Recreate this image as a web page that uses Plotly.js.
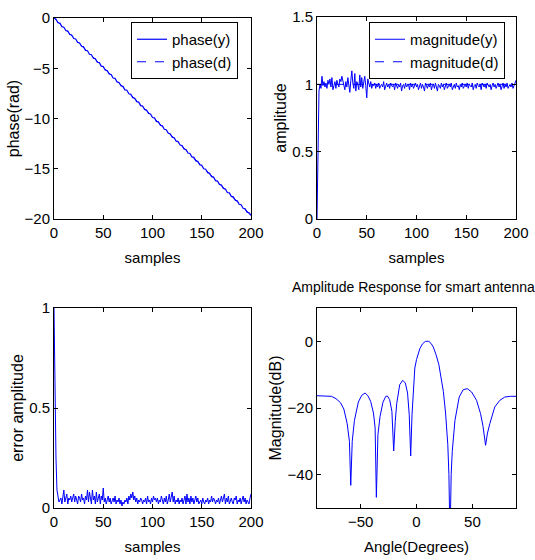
<!DOCTYPE html>
<html>
<head>
<meta charset="utf-8">
<script src="https://cdn.plot.ly/plotly-3.0.1.min.js"></script>
<style>html,body{margin:0;padding:0;background:#fff;}#chart{width:535px;height:560px;}</style>
</head>
<body>
<div id="chart"></div>
<script>
// ---- Data ----
// phase(y), one value every 2 samples starting at sample 0
var phaseY = [0,-0.12,-0.47,-0.51,-0.86,-0.91,-1.25,-1.30,-1.65,-1.69,
  -2.04,-2.09,-2.43,-2.48,-2.82,-2.87,-3.22,-3.26,-3.61,-3.66,
  -4.00,-4.05,-4.40,-4.44,-4.79,-4.84,-5.18,-5.23,-5.57,-5.62,
  -5.97,-6.01,-6.36,-6.41,-6.75,-6.80,-7.15,-7.19,-7.54,-7.58,
  -7.93,-7.98,-8.32,-8.37,-8.72,-8.76,-9.11,-9.16,-9.50,-9.55,
  -9.90,-9.94,-10.29,-10.33,-10.68,-10.73,-11.07,-11.12,-11.47,-11.51,
  -11.86,-11.91,-12.25,-12.30,-12.64,-12.69,-13.04,-13.08,-13.43,-13.48,
  -13.82,-13.87,-14.22,-14.26,-14.61,-14.66,-15.00,-15.05,-15.39,-15.44,
  -15.79,-15.83,-16.18,-16.23,-16.57,-16.62,-16.97,-17.01,-17.36,-17.40,
  -17.75,-17.80,-18.14,-18.19,-18.54,-18.58,-18.93,-18.98,-19.32,-19.37,
  -19.64];
// phase(d), end points of the reference line
var phaseDSamples = [0, 200];
var phaseD = [0, -19.64];
// magnitude(y), one value per sample 0..200
var magY = [0,0.62,0.95,1.0,0.97,1.06,0.99,1.02,0.98,1.01,
  0.97,1.03,1.0,1.04,0.98,1.05,0.96,0.99,1.02,0.97,
  1.03,1.0,0.98,1.04,1.02,1.06,1.03,0.99,0.96,1.02,
  0.98,1.05,1.0,0.94,1.03,1.1,1.01,0.97,1.08,0.95,
  1.02,1.0,0.96,1.07,0.98,1.05,0.97,1.01,1.06,0.99,
  0.9,1.04,1.01,0.98,1.02,0.97,1.0,0.99,1.01,0.97,
  1.0,0.98,1.01,0.97,0.99,1.0,0.98,1.02,0.96,0.99,
  1.01,0.98,1.0,0.97,1.01,0.99,0.98,1.0,0.96,1.01,
  0.99,0.97,1.0,0.98,1.01,0.95,0.99,1.0,0.97,1.01,
  0.98,0.99,1.0,0.96,1.01,0.98,1.0,0.97,0.99,1.01,
  0.98,1.0,0.96,0.99,1.01,0.97,1.0,0.98,0.95,1.01,
  0.99,0.97,1.0,0.98,1.01,0.96,0.99,1.0,0.97,1.01,
  0.98,0.95,1.0,0.99,0.97,1.01,0.98,1.0,0.96,0.99,
  1.01,0.97,0.99,1.0,0.98,1.01,0.96,0.99,1.0,0.97,
  1.01,0.98,0.99,0.96,1.0,0.98,1.01,0.97,0.99,1.0,
  0.98,1.01,0.97,1.0,0.99,0.98,1.01,0.96,0.99,1.0,
  0.97,1.01,0.99,0.98,1.0,0.96,1.01,0.99,0.98,1.0,
  0.97,1.01,0.99,0.98,1.0,0.96,0.99,1.01,0.98,1.0,
  0.97,0.99,1.01,0.98,1.0,0.96,0.99,1.01,0.97,1.0,
  0.98,1.01,0.97,0.99,1.0,0.98,1.01,0.97,0.99,1.0,
  1.03];
// magnitude(d)
var magDSamples = [0, 200];
var magD = [1, 1];
// error amplitude, one value per sample 0..200
var errAmp = [1.0,0.55,0.25,0.09,0.06,0.03,0.04,0.05,0.02,0.06,
  0.09,0.03,0.05,0.07,0.02,0.05,0.04,0.06,0.03,0.05,
  0.07,0.03,0.06,0.04,0.02,0.06,0.05,0.03,0.07,0.04,
  0.05,0.02,0.06,0.04,0.09,0.03,0.08,0.05,0.02,0.09,
  0.04,0.06,0.02,0.08,0.03,0.05,0.07,0.02,0.06,0.04,
  0.1,0.03,0.05,0.02,0.04,0.06,0.03,0.05,0.02,0.04,
  0.05,0.03,0.06,0.02,0.04,0.03,0.05,0.02,0.04,0.01,
  0.03,0.02,0.04,0.03,0.05,0.02,0.06,0.04,0.07,0.05,
  0.08,0.04,0.06,0.03,0.05,0.02,0.04,0.03,0.05,0.04,
  0.02,0.04,0.03,0.05,0.02,0.06,0.03,0.04,0.02,0.05,
  0.03,0.06,0.04,0.05,0.03,0.05,0.02,0.04,0.03,0.06,
  0.04,0.02,0.05,0.03,0.06,0.02,0.04,0.07,0.03,0.05,
  0.08,0.03,0.06,0.02,0.04,0.03,0.05,0.02,0.04,0.03,
  0.05,0.02,0.04,0.06,0.02,0.07,0.03,0.05,0.02,0.06,
  0.03,0.05,0.02,0.04,0.06,0.03,0.05,0.02,0.03,0.04,
  0.02,0.05,0.03,0.02,0.04,0.03,0.05,0.02,0.04,0.03,
  0.06,0.03,0.05,0.04,0.02,0.04,0.03,0.05,0.02,0.04,
  0.06,0.03,0.05,0.07,0.02,0.05,0.03,0.06,0.02,0.04,
  0.05,0.03,0.02,0.05,0.04,0.06,0.02,0.04,0.03,0.05,
  0.02,0.04,0.06,0.03,0.05,0.02,0.04,0.03,0.02,0.05,
  0.07];
// antenna amplitude response
var angleDeg = [-90,-85,-80,-76,-72,-68,-65,-62,-60,-58.8,-57.5,-55.5,-52,-49,-46,-43.5,-41,-38.5,-37,-35.9,
  -34.5,-32.6,-30,-27.5,-26,-24,-22,-20.4,-19,-17.7,-15,-12.3,-10,-8,-6.5,-5.2,-4,-3,-1.5,0,
  3,5.5,8,11,13,15,17.5,20,22,24,26,28,29,30,31,32,34.4,36.5,38.2,41.8,
  45.4,49.3,53.7,57.3,59.5,61.8,63.5,65.6,70,74.5,79,84,90];
var magDB = [-16.3,-16.3,-16.3,-16.5,-17.2,-18.4,-20.3,-24.7,-30,-43.2,-30,-23.7,-18.2,-16.2,-15.5,-16.3,-18,-21.5,-26,-46.8,
  -28,-22.5,-18.3,-16.5,-16.4,-17.5,-21,-32.9,-24,-18.7,-13,-11.7,-12.5,-15.5,-22,-34.4,-22,-15,-8,-5.5,
  -2.2,-0.7,0,0,-0.6,-1.7,-4,-7,-10.5,-15,-21.5,-31,-40,-60,-40,-33,-23.7,-19.5,-16.7,-14.5,
  -14.2,-15.2,-17.7,-21.7,-25.5,-31.2,-27.5,-24.7,-19.7,-17.7,-16.7,-16.5,-16.5];

var sampleTicks = [0, 50, 100, 150, 200];
var phaseTicks = [0, -5, -10, -15, -20];
var ampTicks = [0, 0.5, 1, 1.5];
var errTicks = [0, 0.5, 1];
var angleTicks = [-50, 0, 50];
var dbTicks = [0, -20, -40];

// ---- Styling ----
var FONT = '"Liberation Sans", Arial, sans-serif';
var FS = 15;
var blue = '#0000ff';
var W = 535, H = 560;
function dx(a, b) { return [a / W, b / W]; }
function dy(top, bottom) { return [1 - bottom / H, 1 - top / H]; }

function axis(extra) {
  var base = {
    showline: true, linecolor: '#000', linewidth: 1, mirror: 'ticks',
    ticks: 'inside', ticklen: 4, tickcolor: '#000', tickwidth: 1,
    showgrid: false, zeroline: false, tickmode: 'array',
    tickfont: {family: FONT, size: FS, color: '#000'},
    fixedrange: true
  };
  for (var k in extra) base[k] = extra[k];
  return base;
}
function ttl(t, standoff, size) { return {text: t, font: {family: FONT, size: size || 14, color: '#000'}, standoff: standoff}; }

var traces = [
  {x0: 0, dx: 2, y: phaseY, type: 'scatter', mode: 'lines', name: 'phase(y)', line: {color: blue, width: 1.2}, xaxis: 'x', yaxis: 'y', legend: 'legend', legendgroup: 'a'},
  {x: phaseDSamples, y: phaseD, type: 'scatter', mode: 'lines', name: 'phase(d)', line: {color: blue, width: 1, dash: 'dash'}, xaxis: 'x', yaxis: 'y', legend: 'legend', legendgroup: 'b'},
  {x0: 0, dx: 1, y: magY, type: 'scatter', mode: 'lines', name: 'magnitude(y)', line: {color: blue, width: 1}, xaxis: 'x2', yaxis: 'y2', legend: 'legend2', legendgroup: 'c'},
  {x: magDSamples, y: magD, type: 'scatter', mode: 'lines', name: 'magnitude(d)', line: {color: blue, width: 1, dash: 'dash'}, xaxis: 'x2', yaxis: 'y2', legend: 'legend2', legendgroup: 'd'},
  {x0: 0, dx: 1, y: errAmp, type: 'scatter', mode: 'lines', name: 'error', line: {color: blue, width: 1}, xaxis: 'x3', yaxis: 'y3', showlegend: false},
  {x: angleDeg, y: magDB, type: 'scatter', mode: 'lines', name: 'response', line: {color: blue, width: 1}, xaxis: 'x4', yaxis: 'y4', showlegend: false}
];

var legendStyle = {
  bgcolor: '#fff', bordercolor: '#000', borderwidth: 1,
  font: {family: FONT, size: 15, color: '#000'},
  xanchor: 'left', yanchor: 'top', tracegroupgap: 5, traceorder: 'normal'
};
function leg(x, y) { var o = {}; for (var k in legendStyle) o[k] = legendStyle[k]; o.x = x; o.y = y; return o; }

var layout = {
  width: W, height: H,
  margin: {l: 0, r: 0, t: 0, b: 0},
  paper_bgcolor: '#fff', plot_bgcolor: '#fff',
  showlegend: true,
  font: {family: FONT, size: FS, color: '#000'},
  xaxis: axis({domain: dx(54, 251), range: [0, 200], tickvals: sampleTicks, anchor: 'y', title: ttl('samples', 12, 15)}),
  yaxis: axis({domain: dy(18, 219), range: [-20, 0], tickvals: phaseTicks, anchor: 'x', title: ttl('phase(rad)', 0, 16)}),
  xaxis2: axis({domain: dx(317, 516), range: [0, 200], tickvals: sampleTicks, anchor: 'y2', title: ttl('samples', 12, 15)}),
  yaxis2: axis({domain: dy(17, 219), range: [0, 1.5], tickvals: ampTicks, anchor: 'x2', title: ttl('amplitude', 1, 16)}),
  xaxis3: axis({domain: dx(54, 251), range: [0, 200], tickvals: sampleTicks, anchor: 'y3', title: ttl('samples', 12, 15)}),
  yaxis3: axis({domain: dy(308, 508), range: [0, 1], tickvals: errTicks, anchor: 'x3', title: ttl('error amplitude', 1, 16)}),
  xaxis4: axis({domain: dx(317, 516), range: [-89, 89], tickvals: angleTicks, anchor: 'y4', title: ttl('Angle(Degrees)', 12, 15)}),
  yaxis4: axis({domain: dy(308, 508), range: [-50, 10], tickvals: dbTicks, anchor: 'x4', title: ttl('Magnitude(dB)', 1, 16)}),
  legend: leg(131 / W, 1 - 22 / H),
  legend2: leg(369 / W, 1 - 22 / H),
  annotations: [
    {text: 'Amplitude Response for smart antenna', xref: 'paper', yref: 'paper', x: 413 / W, y: 1 - 287 / H,
     xanchor: 'center', yanchor: 'middle', showarrow: false, font: {family: FONT, size: 14, color: '#000'}}
  ]
};

Plotly.newPlot('chart', traces, layout, {displayModeBar: false, staticPlot: true});
</script>
</body>
</html>
